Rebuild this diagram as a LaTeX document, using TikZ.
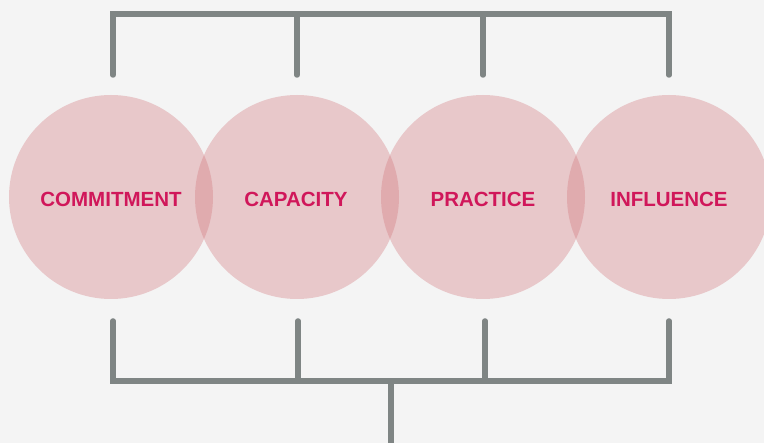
\documentclass[tikz,border=0pt]{standalone}
\usepackage{fontspec}
\setmainfont{Liberation Sans}
\definecolor{bgc}{HTML}{F4F4F4}
\definecolor{ringc}{RGB}{210,118,124}
\definecolor{txtc}{HTML}{D0175A}
\definecolor{linec}{HTML}{7F8584}
\tikzset{
  ring/.style={circle, minimum size=204pt, inner sep=0pt, fill=ringc, fill opacity=0.35, draw=none},
  lbl/.style={text=txtc, font=\bfseries\fontsize{20.5}{24}\selectfont},
  brk/.style={draw=linec, line width=5.5pt, line cap=round, line join=miter}
}
\begin{document}
\begin{tikzpicture}[x=1pt,y=-1pt]
\fill[bgc] (0,0) rectangle (764,443);
\useasboundingbox (0,0) rectangle (764,443);
\node[ring] (c1) at (111,197) {};
\node[ring] (c2) at (297,197) {};
\node[ring] (c3) at (483,197) {};
\node[ring] (c4) at (669,197) {};
\node[lbl] (t1) at (111,199) {COMMITMENT};
\node[lbl] (t2) at (296,199) {CAPACITY};
\node[lbl] (t3) at (483,199) {PRACTICE};
\node[lbl] (t4) at (669,199) {INFLUENCE};
% top bracket
\coordinate (ta) at (113,75);
\coordinate (tb) at (113,14);
\coordinate (tc) at (669,14);
\coordinate (td) at (669,75);
\coordinate (te) at (297,14);
\coordinate (tf) at (297,75);
\coordinate (tg) at (483,14);
\coordinate (th) at (483,75);
\draw[brk] (ta) -- (tb) -- (tc) -- (td);
\draw[brk] (te) -- (tf);
\draw[brk] (tg) -- (th);
% bottom bracket
\coordinate (ba) at (113,321);
\coordinate (bb) at (113,381);
\coordinate (bc) at (669,381);
\coordinate (bd) at (669,321);
\coordinate (be) at (298,321);
\coordinate (bf) at (298,381);
\coordinate (bg) at (485,321);
\coordinate (bh) at (485,381);
\coordinate (bi) at (391,381);
\coordinate (bj) at (391,450);
\draw[brk] (ba) -- (bb) -- (bc) -- (bd);
\draw[brk] (be) -- (bf);
\draw[brk] (bg) -- (bh);
\draw[brk] (bi) -- (bj);
\end{tikzpicture}
\end{document}
